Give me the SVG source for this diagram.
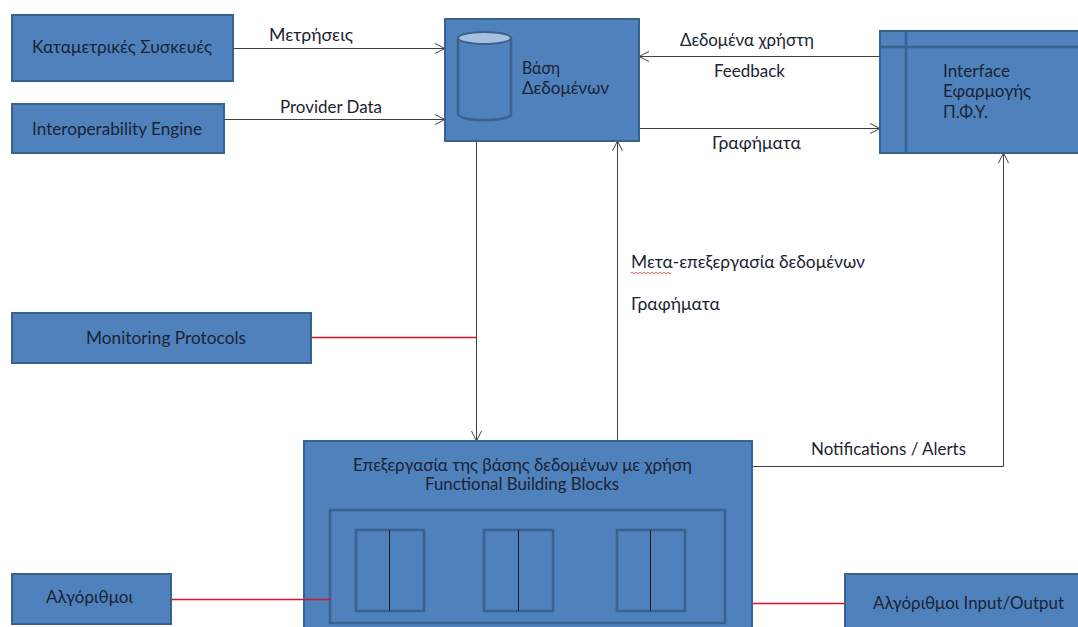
<svg xmlns="http://www.w3.org/2000/svg" width="1078" height="627" viewBox="0 0 1078 627">
<style>
text{font-family:"Lato","Open Sans","Noto Sans",sans-serif;font-size:16.5px;fill:#1b2433}
.b{fill:#4f81bd;stroke:#3a6290;stroke-width:2}
.i{fill:none;stroke:#3a6290;stroke-width:2.5}
.c{fill:none;stroke:#404040;stroke-width:1}
.r{fill:none;stroke:#d4142a;stroke-width:1.4}
.k{fill:none;stroke:#141c2c;stroke-width:1}
</style>
<defs><marker id="a" markerWidth="12" markerHeight="12" refX="11" refY="6" orient="auto" markerUnits="userSpaceOnUse"><path d="M1 1L11 6L1 11" fill="none" stroke="#404040" stroke-width="1"/></marker></defs>
<rect width="1078" height="627" fill="#fff"/>
<g id="connectors">
<path class="c" marker-end="url(#a)" d="M233 48.500H445"/>
<path class="c" marker-end="url(#a)" d="M224 119.500H445"/>
<path class="c" marker-end="url(#a)" d="M880 56.500H639"/>
<path class="c" marker-end="url(#a)" d="M639 128.500H880"/>
<path class="c" marker-end="url(#a)" d="M476.500 141V441"/>
<path class="c" marker-end="url(#a)" d="M617.500 441V141"/>
<path class="c" marker-end="url(#a)" d="M752 466.500H1003.500V153"/>
<path class="r" d="M311 337.500H476"/>
</g>
<g id="n-meters"><rect class="b" x="12" y="15" width="221" height="66"/><text x="32" y="53" textLength="180" lengthAdjust="spacingAndGlyphs">Καταμετρικές Συσκευές</text></g>
<g id="n-interop"><rect class="b" x="12" y="104" width="212" height="49"/><text x="32" y="134.500" textLength="170" lengthAdjust="spacingAndGlyphs">Interoperability Engine</text></g>
<g id="n-db"><rect class="b" x="445" y="19" width="194" height="122"/>
<path class="i" d="M458 38V114C458 122 511 122 511 114V38"/><ellipse cx="484.500" cy="38" rx="26.500" ry="6" fill="#a7c0de" stroke="#3a6290" stroke-width="2"/>
<text x="522" y="74" textLength="38" lengthAdjust="spacingAndGlyphs">Βάση</text><text x="522" y="93.500" textLength="87" lengthAdjust="spacingAndGlyphs">Δεδομένων</text></g>
<g id="n-iface"><rect class="b" x="880" y="31" width="200" height="122"/><path class="i" d="M906 31V153M880 47H1080"/>
<text x="943" y="77" textLength="67" lengthAdjust="spacingAndGlyphs">Interface</text><text x="943" y="97" textLength="88" lengthAdjust="spacingAndGlyphs">Εφαρμογής</text><text x="943" y="118" textLength="45" lengthAdjust="spacingAndGlyphs">Π.Φ.Υ.</text></g>
<g id="n-monitor"><rect class="b" x="12" y="313" width="299" height="50"/><text x="86" y="344" textLength="160" lengthAdjust="spacingAndGlyphs">Monitoring Protocols</text></g>
<g id="n-process"><rect class="b" x="304" y="441" width="448" height="195"/>
<text x="353" y="471" textLength="339" lengthAdjust="spacingAndGlyphs">Επεξεργασία της βάσης δεδομένων με χρήση</text><text x="425" y="490" textLength="194" lengthAdjust="spacingAndGlyphs">Functional Building Blocks</text>
<rect class="i" x="330" y="510" width="395" height="113"/>
<rect class="i" x="356" y="530" width="68" height="81"/><path class="k" d="M389.500 530V611"/>
<rect class="i" x="484" y="530" width="69" height="81"/><path class="k" d="M518.500 530V611"/>
<rect class="i" x="617" y="530" width="68" height="81"/><path class="k" d="M650.500 530V611"/></g>
<g id="n-algo"><rect class="b" x="12" y="574" width="159" height="50"/><text x="46" y="603" textLength="87" lengthAdjust="spacingAndGlyphs">Αλγόριθμοι</text></g>
<g id="n-algo-io"><rect class="b" x="845" y="574" width="235" height="60"/><text x="873" y="609" textLength="191" lengthAdjust="spacingAndGlyphs">Αλγόριθμοι Input/Output</text></g>
<path class="r" d="M171 599.500H331M752 603.500H845"/>
<g id="labels">
<text x="269" y="41" textLength="84" lengthAdjust="spacingAndGlyphs">Μετρήσεις</text>
<text x="280" y="113" textLength="102" lengthAdjust="spacingAndGlyphs">Provider Data</text>
<text x="680" y="46" textLength="134" lengthAdjust="spacingAndGlyphs">Δεδομένα χρήστη</text>
<text x="714" y="77" textLength="71" lengthAdjust="spacingAndGlyphs">Feedback</text>
<text x="712" y="149" textLength="89" lengthAdjust="spacingAndGlyphs">Γραφήματα</text>
<text x="631" y="268" textLength="234" lengthAdjust="spacingAndGlyphs">Μετα-επεξεργασία δεδομένων</text>
<text x="631" y="310" textLength="89" lengthAdjust="spacingAndGlyphs">Γραφήματα</text>
<text x="811" y="455" textLength="155" lengthAdjust="spacingAndGlyphs">Notifications / Alerts</text>
<path d="M631 273q1-2 2 0t2 0t2 0t2 0t2 0t2 0t2 0t2 0t2 0t2 0t2 0t2 0t2 0t2 0t2 0t2 0t2 0t2 0t2 0t2 0" fill="none" stroke="#d23b3b" stroke-width="0.800"/>
</g>
</svg>
